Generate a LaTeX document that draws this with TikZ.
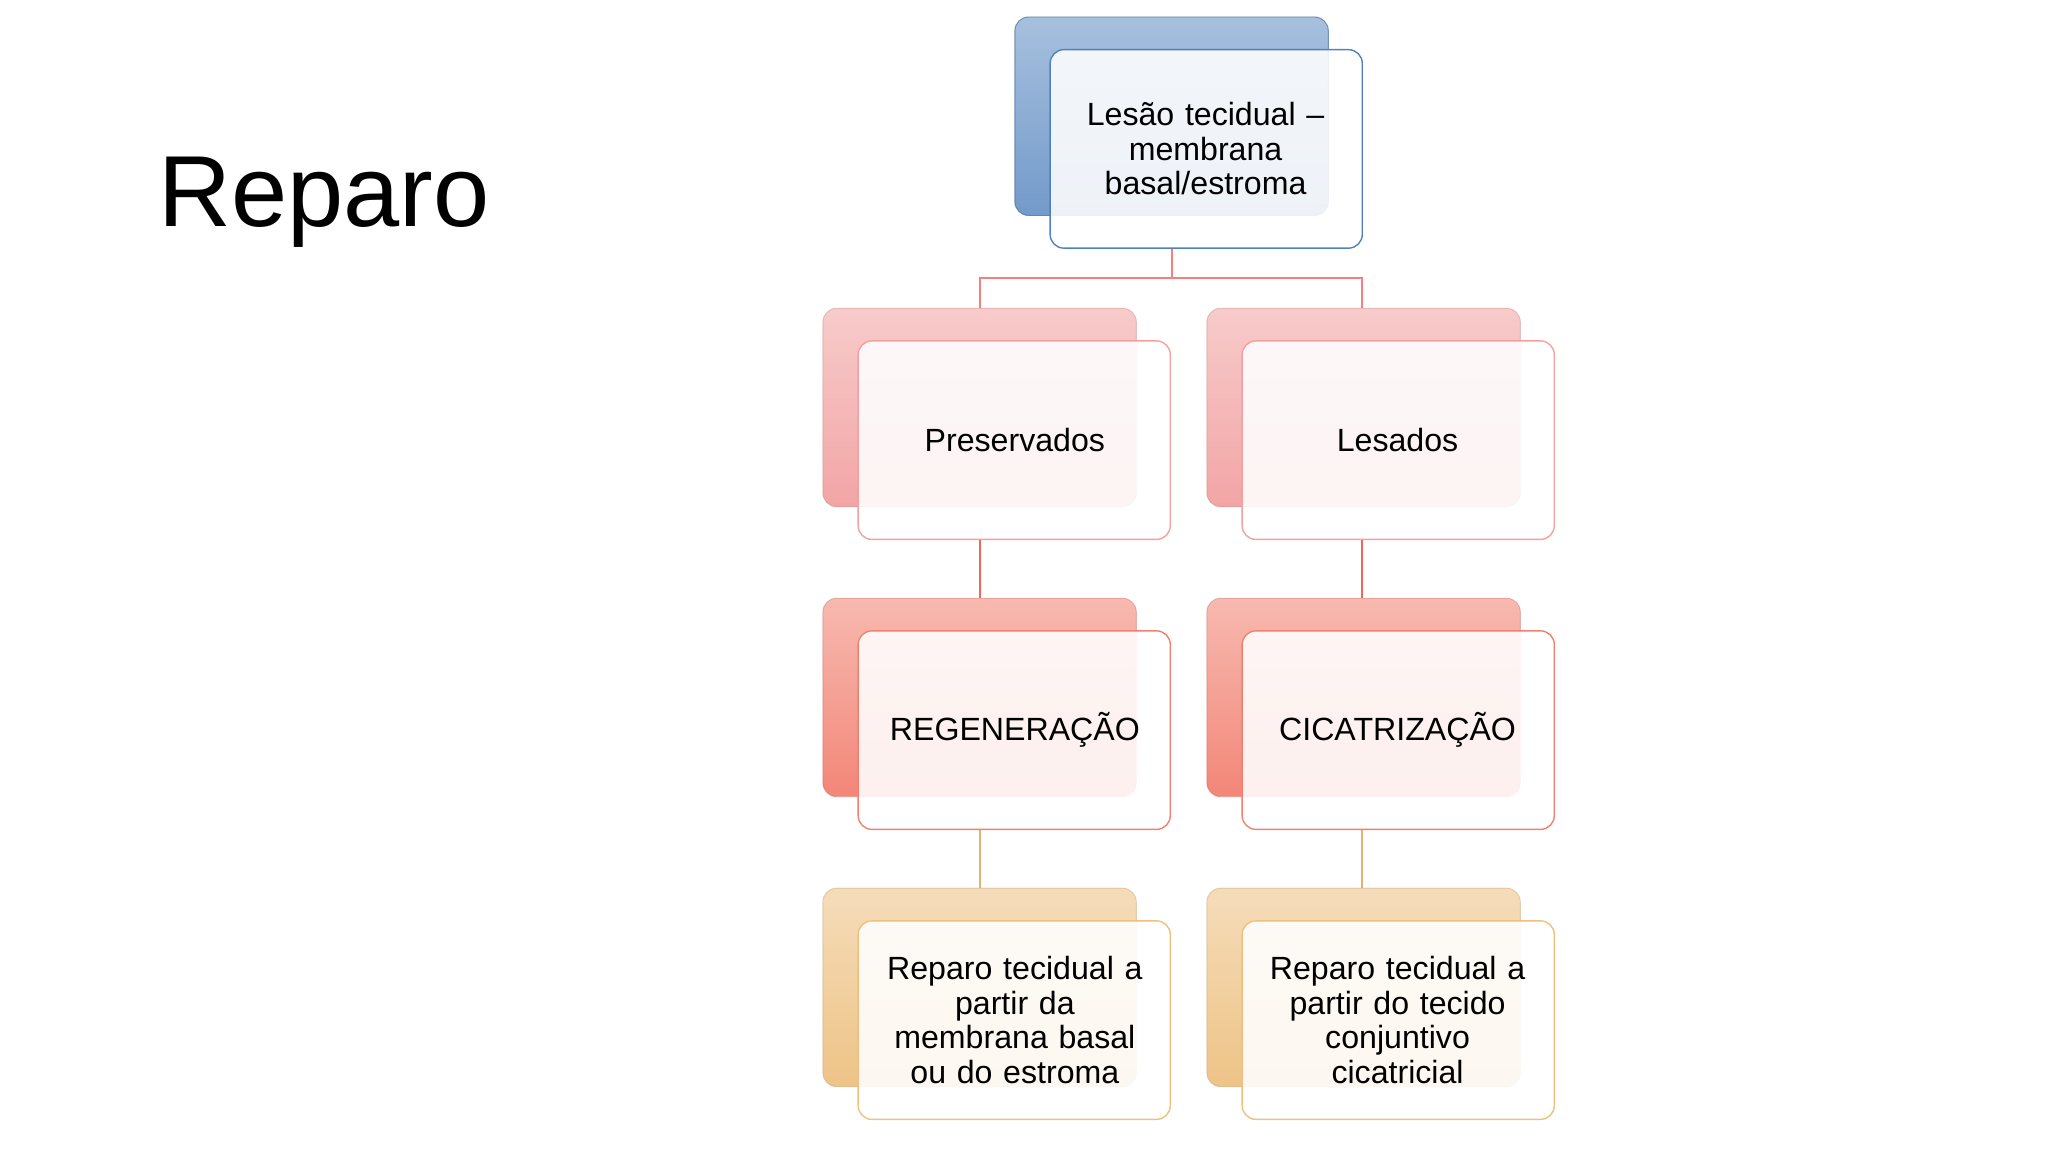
\documentclass[tikz,border=0pt]{standalone}
\usepackage{fontspec}
\setmainfont{Liberation Sans}
\begin{document}
\begin{tikzpicture}[x=0.02cm,y=-0.02cm,
 backbox/.style={rounded corners=6pt,draw=#1!80!black,draw opacity=0.4},
 frontbox/.style={rounded corners=6pt,draw=#1,fill=white,fill opacity=0.88,line width=0.6pt},
 lbl/.style={align=center,font=\fontsize{14}{15}\selectfont,text width=4.6cm},
 conn/.style={line width=0.8pt}]
\useasboundingbox (0,0) rectangle (1568,882);
\node[font=\fontsize{44}{48}\selectfont,anchor=west] (title) at (115,155) {Reparo};
\definecolor{bl}{HTML}{4F81BD}
\definecolor{pk}{HTML}{F2A0A0}
\definecolor{sa}{HTML}{F28070}
\definecolor{tn}{HTML}{EDC080}
% connectors
\coordinate (j) at (897,213);
\draw[conn,draw=pk!80!red] (897,190) -- (j);
\draw[conn,draw=pk!80!red] (750,236) -- (750,213) -- (1043,213) -- (1043,236);
\draw[conn,draw=sa!80!red] (750,413) -- (750,458);
\draw[conn,draw=sa!80!red] (1043,413) -- (1043,458);
\draw[conn,draw=tn!80!brown] (750,635) -- (750,680);
\draw[conn,draw=tn!80!brown] (1043,635) -- (1043,680);
% top
\shade[backbox=bl,top color=bl!50,bottom color=bl!80,rounded corners=6pt] (777,13) rectangle (1017,165);
\draw[backbox=bl] (777,13) rectangle (1017,165);
\draw[frontbox=bl] (804,38) rectangle (1043,190);
\node[lbl] (top) at (923,114) {Lesão tecidual –\\membrana\\basal/estroma};
% rows
\foreach \x/\c/\ya/\yb in {630/pk/236/388,924/pk/236/388,630/sa/458/610,924/sa/458/610,630/tn/680/832,924/tn/680/832}{
 \shade[top color=\c!55,bottom color=\c!95,rounded corners=6pt] (\x,\ya) rectangle (\x+240,\yb);
 \draw[backbox=\c] (\x,\ya) rectangle (\x+240,\yb);
 \draw[frontbox=\c] (\x+27,\ya+25) rectangle (\x+266,\yb+25);
}
\node[lbl] (pres) at (777,337) {Preservados};
\node[lbl] (les) at (1070,337) {Lesados};
\node[lbl] (reg) at (777,559) {REGENERAÇÃO};
\node[lbl] (cic) at (1070,559) {CICATRIZAÇÃO};
\node[lbl] (r1) at (777,781) {Reparo tecidual a\\partir da\\membrana basal\\ou do estroma};
\node[lbl] (r2) at (1070,781) {Reparo tecidual a\\partir do tecido\\conjuntivo\\cicatricial};
\end{tikzpicture}
\end{document}
